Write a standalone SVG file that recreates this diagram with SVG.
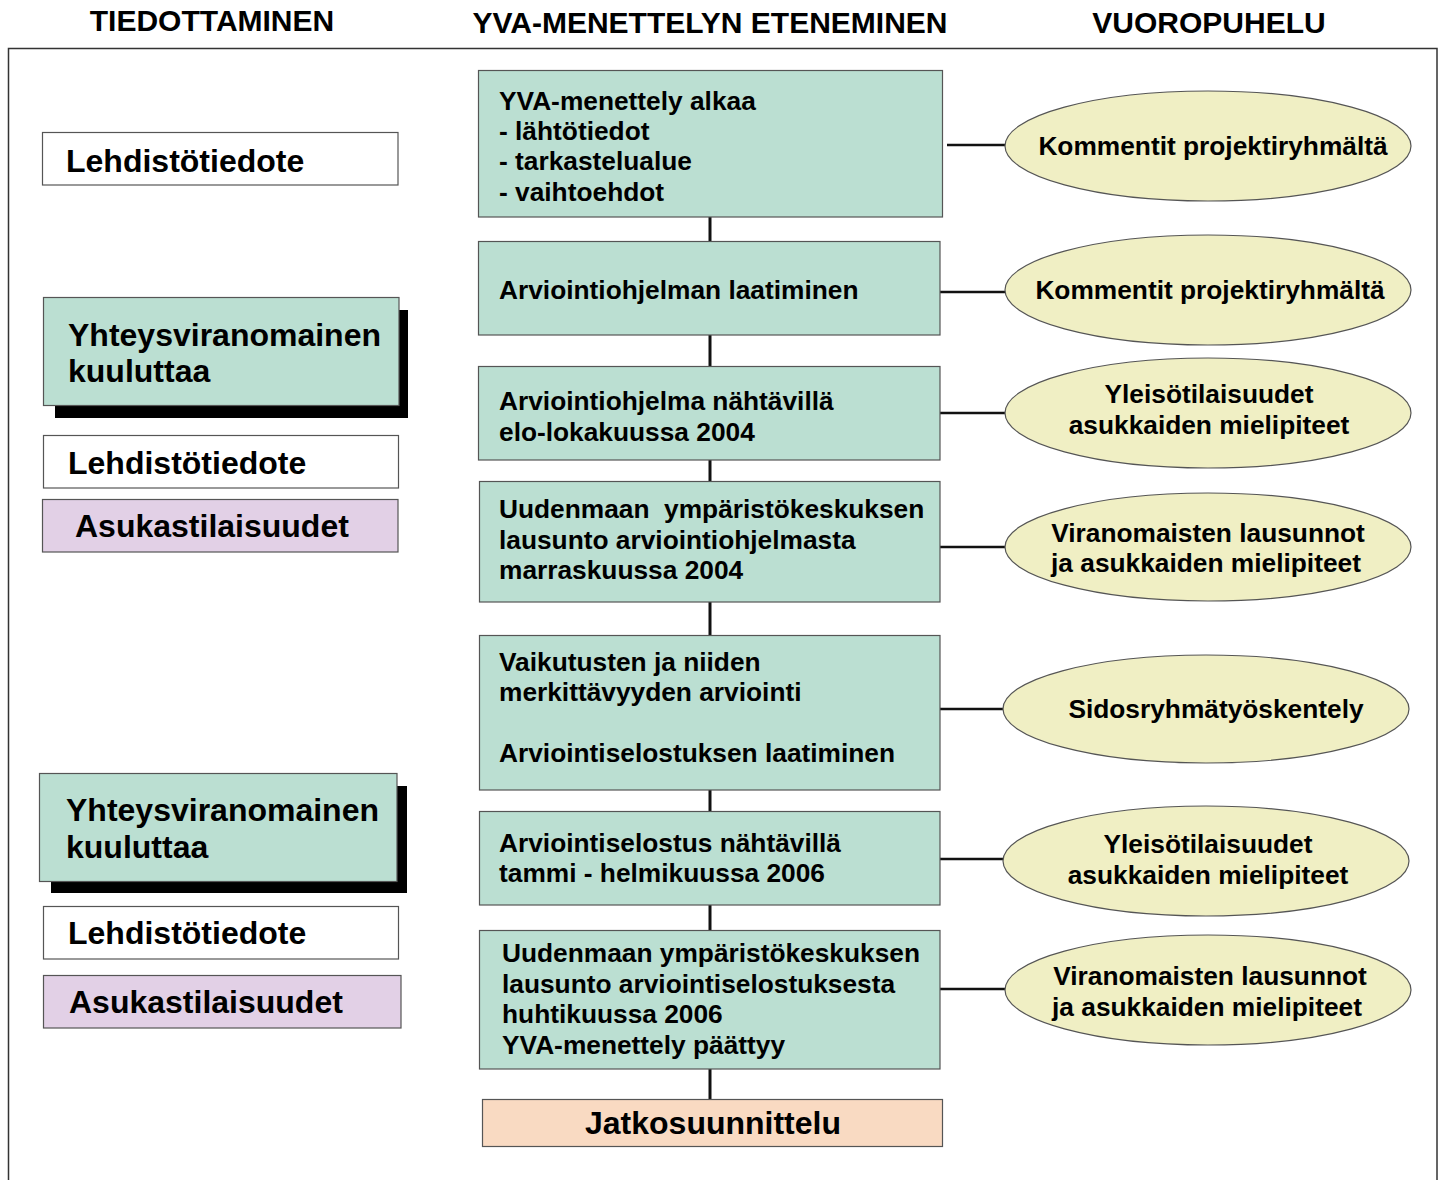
<svg xmlns="http://www.w3.org/2000/svg" width="1444" height="1180" viewBox="0 0 1444 1180">
<style>
text{font-family:"Liberation Sans",Arial,sans-serif;font-weight:bold;fill:#000}
.hd{font-size:30px;text-anchor:middle}
.lt{font-size:32px}
.ct{font-size:26.3px}
.et{font-size:26.3px;text-anchor:middle}
.box{stroke:#555;stroke-width:1.2}
.w{fill:#fff}
.g{fill:#bbdfd2}
.p{fill:#e2d0e6}
.o{fill:#f9dac2}
.el{fill:#f0efc4;stroke:#555;stroke-width:1.2}
.sh{fill:#000}
.cn line{stroke:#111;stroke-width:3}
.cn line.h{stroke-width:2.5}
</style>
<rect width="1444" height="1180" fill="#fff"/>
<g id="headers">
<text class="hd" x="212" y="31">TIEDOTTAMINEN</text>
<text class="hd" x="710" y="33">YVA-MENETTELYN ETENEMINEN</text>
<text class="hd" x="1209" y="33">VUOROPUHELU</text>
</g>
<rect id="frame" x="8.5" y="48.5" width="1428.5" height="1200" fill="none" stroke="#333" stroke-width="1.5"/>
<g class="cn" id="connectors">
<line x1="710" y1="217" x2="710" y2="241"/>
<line x1="710" y1="335" x2="710" y2="366"/>
<line x1="710" y1="460" x2="710" y2="481"/>
<line x1="710" y1="602" x2="710" y2="635"/>
<line x1="710" y1="790" x2="710" y2="811"/>
<line x1="710" y1="905" x2="710" y2="930"/>
<line x1="710" y1="1069" x2="710" y2="1099"/>
<line class="h" x1="947" y1="145" x2="1006" y2="145"/>
<line class="h" x1="940" y1="292" x2="1006" y2="292"/>
<line class="h" x1="940" y1="413" x2="1006" y2="413"/>
<line class="h" x1="940" y1="547" x2="1006" y2="547"/>
<line class="h" x1="940" y1="709" x2="1004" y2="709"/>
<line class="h" x1="940" y1="859" x2="1004" y2="859"/>
<line class="h" x1="940" y1="989" x2="1006" y2="989"/>
</g>
<g id="left1"><rect class="box w" x="42.5" y="132.5" width="355.5" height="52.5"/><text class="lt" x="66" y="172">Lehdistötiedote</text></g>
<g id="left2"><rect class="sh" x="55" y="310" width="353" height="108"/><rect class="box g" x="43.5" y="297.5" width="355.5" height="108"/><text class="lt" x="68" y="346">Yhteysviranomainen</text><text class="lt" x="68" y="382">kuuluttaa</text></g>
<g id="left3"><rect class="box w" x="43.5" y="435.5" width="355" height="52.5"/><text class="lt" x="68" y="474">Lehdistötiedote</text></g>
<g id="left4"><rect class="box p" x="42.5" y="499.5" width="355.5" height="52.5"/><text class="lt" x="75" y="537">Asukastilaisuudet</text></g>
<g id="left5"><rect class="sh" x="51" y="786" width="356" height="107"/><rect class="box g" x="39.5" y="773.5" width="357.5" height="108"/><text class="lt" x="66" y="821">Yhteysviranomainen</text><text class="lt" x="66" y="858">kuuluttaa</text></g>
<g id="left6"><rect class="box w" x="43.5" y="906.5" width="355" height="52.5"/><text class="lt" x="68" y="944">Lehdistötiedote</text></g>
<g id="left7"><rect class="box p" x="43.5" y="975.5" width="357.5" height="52.5"/><text class="lt" x="69" y="1013">Asukastilaisuudet</text></g>
<g id="c1"><rect class="box g" x="478.5" y="70.5" width="464" height="146.5"/><text class="ct" x="499" y="110">YVA-menettely alkaa</text><text class="ct" x="499" y="140">- lähtötiedot</text><text class="ct" x="499" y="170">- tarkastelualue</text><text class="ct" x="499" y="201">- vaihtoehdot</text></g>
<g id="c2"><rect class="box g" x="478.5" y="241.5" width="461.5" height="93.5"/><text class="ct" x="499" y="299">Arviointiohjelman laatiminen</text></g>
<g id="c3"><rect class="box g" x="478.5" y="366.5" width="461.5" height="93.5"/><text class="ct" x="499" y="410">Arviointiohjelma nähtävillä</text><text class="ct" x="499" y="441">elo-lokakuussa 2004</text></g>
<g id="c4"><rect class="box g" x="479.5" y="481.5" width="460.5" height="120.5"/><text class="ct" x="499" y="518" xml:space="preserve">Uudenmaan  ympäristökeskuksen</text><text class="ct" x="499" y="549">lausunto arviointiohjelmasta</text><text class="ct" x="499" y="579">marraskuussa 2004</text></g>
<g id="c5"><rect class="box g" x="479.5" y="635.5" width="460.5" height="154.5"/><text class="ct" x="499" y="671">Vaikutusten ja niiden</text><text class="ct" x="499" y="701">merkittävyyden arviointi</text><text class="ct" x="499" y="762">Arviointiselostuksen laatiminen</text></g>
<g id="c6"><rect class="box g" x="479.5" y="811.5" width="460.5" height="93.5"/><text class="ct" x="499" y="852">Arviointiselostus nähtävillä</text><text class="ct" x="499" y="882">tammi - helmikuussa 2006</text></g>
<g id="c7"><rect class="box g" x="479.5" y="930.5" width="460.5" height="138.5"/><text class="ct" x="502" y="962">Uudenmaan ympäristökeskuksen</text><text class="ct" x="502" y="993">lausunto arviointiselostuksesta</text><text class="ct" x="502" y="1023">huhtikuussa 2006</text><text class="ct" x="502" y="1054">YVA-menettely päättyy</text></g>
<g id="c8"><rect class="box o" x="482.5" y="1099.5" width="460" height="47"/><text class="lt" x="713" y="1134" text-anchor="middle">Jatkosuunnittelu</text></g>
<g id="e1"><ellipse class="el" cx="1208" cy="146" rx="203" ry="55"/><text class="et" x="1213" y="155">Kommentit projektiryhmältä</text></g>
<g id="e2"><ellipse class="el" cx="1208" cy="290" rx="203" ry="55"/><text class="et" x="1210" y="299">Kommentit projektiryhmältä</text></g>
<g id="e3"><ellipse class="el" cx="1208" cy="413" rx="203" ry="55"/><text class="et" x="1209" y="403">Yleisötilaisuudet</text><text class="et" x="1209" y="434">asukkaiden mielipiteet</text></g>
<g id="e4"><ellipse class="el" cx="1208" cy="547" rx="203" ry="54"/><text class="et" x="1208" y="542">Viranomaisten lausunnot</text><text class="et" x="1206" y="572">ja asukkaiden mielipiteet</text></g>
<g id="e5"><ellipse class="el" cx="1206" cy="709" rx="203" ry="54"/><text class="et" x="1216" y="718">Sidosryhmätyöskentely</text></g>
<g id="e6"><ellipse class="el" cx="1206" cy="861" rx="203" ry="55"/><text class="et" x="1208" y="853">Yleisötilaisuudet</text><text class="et" x="1208" y="884">asukkaiden mielipiteet</text></g>
<g id="e7"><ellipse class="el" cx="1208" cy="990" rx="203" ry="55"/><text class="et" x="1210" y="985">Viranomaisten lausunnot</text><text class="et" x="1207" y="1016">ja asukkaiden mielipiteet</text></g>
</svg>
